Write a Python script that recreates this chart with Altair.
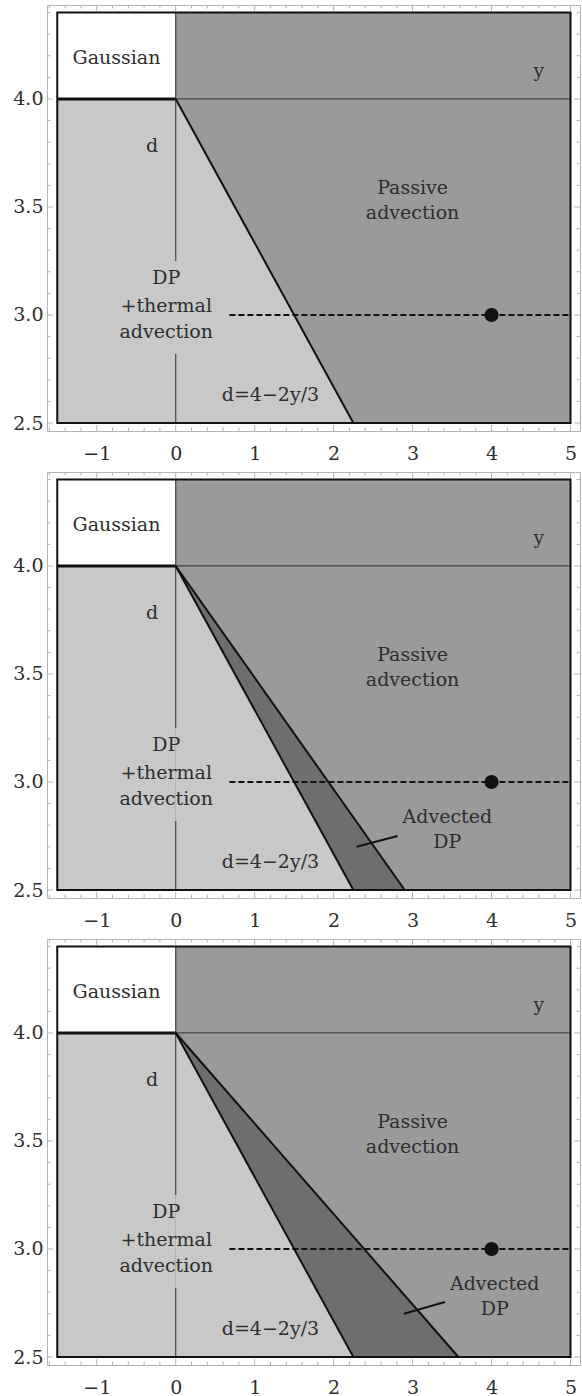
import altair as alt
import pandas as pd

# ---------------- data ----------------
X_DOMAIN = [-1.63, 5.12]
Y_DOMAIN = [2.463, 4.435]
W, H = 533, 426

# filled regions: Gaussian (white), DP left (light), passive advection (medium)
region_x = [-1.5, -1.5, 0.0]
region_x2 = [0.0, 0.0, 5.0]
region_y = [4.0, 2.5, 2.5]
region_y2 = [4.4, 4.0, 4.4]
region_fill = ["#ffffff", "#c8c8c8", "#9a9a9a"]

# DP + thermal advection boundary d = 4 - 2y/3 : (0,4) -> (2.25,2.5)
dp_x = [0.0, 2.25]
dp_d = [4.0, 2.5]

# right edge (at d = 2.5) of the "Advected DP" wedge in each panel
adv_right = [None, 2.9, 3.58]
# pointer segment for "Advected DP" label per panel: x, d, x2, d2
ptr = [None, (2.29, 2.70, 2.81, 2.75), (2.89, 2.70, 3.41, 2.755)]
adv_label_x = [None, 3.44, 4.04]

# thin guide lines: d = 4 (y from 0 to 5) and y = 0 (split around label)
thin_x = [0.0, 0.0, 0.0]
thin_x2 = [5.0, 0.0, 0.0]
thin_d = [4.0, 4.4, 2.82]
thin_d2 = [4.0, 3.25, 2.5]

# dashed line d = 3 and marked point
dash_x, dash_x2, dash_d = 0.68, 5.0, 3.0
pt_x, pt_d = [4.0], [3.0]

# labels
lab_text = ["Gaussian", "y", "d", "Passive", "advection", "DP", "+thermal",
            "advection", "d=4\u22122y/3"]
lab_x = [-0.75, 4.6, -0.30, 3.0, 3.0, -0.12, -0.12, -0.12, 1.2]
lab_d = [4.19, 4.13, 3.78, 3.59, 3.47, 3.17, 3.04, 2.92, 2.63]

# ticks
x_major = [-1, 0, 1, 2, 3, 4, 5]
x_minor = [-1.6, -1.4, -1.2, -0.8, -0.6, -0.4, -0.2, 0.2, 0.4, 0.6, 0.8,
           1.2, 1.4, 1.6, 1.8, 2.2, 2.4, 2.6, 2.8, 3.2, 3.4, 3.6, 3.8,
           4.2, 4.4, 4.6, 4.8]
y_major = [2.5, 3.0, 3.5, 4.0]
y_minor = [2.6, 2.7, 2.8, 2.9, 3.1, 3.2, 3.3, 3.4, 3.6, 3.7, 3.8, 3.9,
           4.1, 4.2, 4.3, 4.4]

FONT = "DejaVu Serif"
TXT = "#2e2e2e"
FRAME = "#b4b4b4"

xs = alt.Scale(domain=X_DOMAIN, nice=False, zero=False)
ys = alt.Scale(domain=Y_DOMAIN, nice=False, zero=False)


def X(f, **kw):
    return alt.X(f, scale=xs, title=None, **kw)


def Y(f, **kw):
    return alt.Y(f, scale=ys, title=None, **kw)


def tick_layer(vals, size, side):
    df = pd.DataFrame({"v": vals})
    m = alt.Chart(df).mark_rule(color=FRAME, strokeWidth=1)
    if side == "bottom":
        return m.encode(x=X("v:Q"), y=alt.value(H), y2=alt.value(H - size))
    if side == "top":
        return m.encode(x=X("v:Q"), y=alt.value(0), y2=alt.value(size))
    if side == "left":
        return m.encode(y=Y("v:Q"), x=alt.value(0), x2=alt.value(size))
    return m.encode(y=Y("v:Q"), x=alt.value(W), x2=alt.value(W - size))


def panel(i):
    layers = []
    reg = pd.DataFrame({"x": region_x, "x2": region_x2, "y": region_y,
                        "y2": region_y2, "c": region_fill})
    layers.append(alt.Chart(reg).mark_rect().encode(
        x=X("x:Q", axis=alt.Axis(values=x_major, format="d", labelPadding=13)),
        x2="x2:Q",
        y=Y("y:Q", axis=alt.Axis(values=y_major, format=".1f", labelPadding=4)),
        y2="y2:Q",
        color=alt.Color("c:N", scale=None),
    ))
    if adv_right[i] is not None:
        adv = pd.DataFrame({"x": [0.0, adv_right[i]], "y": [4.0, 2.5], "y2": [2.5, 2.5]})
        layers.append(alt.Chart(adv).mark_area(color="#6e6e6e", opacity=1).encode(
            x=X("x:Q"), y=Y("y:Q"), y2="y2:Q"))
    tri = pd.DataFrame({"x": dp_x, "y": dp_d, "y2": [2.5, 2.5]})
    layers.append(alt.Chart(tri).mark_area(color="#c8c8c8", opacity=1).encode(
        x=X("x:Q"), y=Y("y:Q"), y2="y2:Q"))

    thin = pd.DataFrame({"x": thin_x, "x2": thin_x2, "y": thin_d, "y2": thin_d2})
    layers.append(alt.Chart(thin).mark_rule(color="#444444", strokeWidth=1.2).encode(
        x=X("x:Q"), x2="x2:Q", y=Y("y:Q"), y2="y2:Q"))

    seg_x, seg_x2, seg_y, seg_y2 = [dp_x[0]], [dp_x[1]], [dp_d[0]], [dp_d[1]]
    if adv_right[i] is not None:
        seg_x += [0.0]
        seg_x2 += [adv_right[i]]
        seg_y += [4.0]
        seg_y2 += [2.5]
        px, pd_, px2, pd2 = ptr[i]
        seg_x += [px]
        seg_x2 += [px2]
        seg_y += [pd_]
        seg_y2 += [pd2]
    segs = pd.DataFrame({"x": seg_x, "x2": seg_x2, "y": seg_y, "y2": seg_y2})
    layers.append(alt.Chart(segs).mark_rule(color="#111111", strokeWidth=2).encode(
        x=X("x:Q"), x2="x2:Q", y=Y("y:Q"), y2="y2:Q"))

    gl = pd.DataFrame({"x": [-1.5], "x2": [0.0], "y": [4.0]})
    layers.append(alt.Chart(gl).mark_rule(color="#111111", strokeWidth=3).encode(
        x=X("x:Q"), x2="x2:Q", y=Y("y:Q")))

    border = pd.DataFrame({"x": [-1.5], "x2": [5.0], "y": [2.5], "y2": [4.4]})
    layers.append(alt.Chart(border).mark_rect(fillOpacity=0, stroke="#111111",
                                              strokeWidth=2).encode(
        x=X("x:Q"), x2="x2:Q", y=Y("y:Q"), y2="y2:Q"))

    dl = pd.DataFrame({"x": [dash_x], "x2": [dash_x2], "y": [dash_d]})
    layers.append(alt.Chart(dl).mark_rule(color="#111111", strokeWidth=2,
                                          strokeDash=[6, 3]).encode(
        x=X("x:Q"), x2="x2:Q", y=Y("y:Q")))

    pt = pd.DataFrame({"x": pt_x, "y": pt_d})
    layers.append(alt.Chart(pt).mark_circle(size=200, color="#111111", opacity=1).encode(
        x=X("x:Q"), y=Y("y:Q")))

    t_text, t_x, t_y = list(lab_text), list(lab_x), list(lab_d)
    if adv_label_x[i] is not None:
        t_text += ["Advected", "DP"]
        t_x += [adv_label_x[i], adv_label_x[i]]
        t_y += [2.84, 2.72]
    lab = pd.DataFrame({"t": t_text, "x": t_x, "y": t_y})
    layers.append(alt.Chart(lab).mark_text(font=FONT, fontSize=19, color=TXT,
                                           baseline="middle", align="center").encode(
        x=X("x:Q"), y=Y("y:Q"), text="t:N"))

    for side in ["bottom", "top"]:
        layers.append(tick_layer(x_major, 6, side))
        layers.append(tick_layer(x_minor, 3.5, side))
    for side in ["left", "right"]:
        layers.append(tick_layer(y_major, 6, side))
        layers.append(tick_layer(y_minor, 3.5, side))

    return alt.layer(*layers).properties(width=W, height=H)


chart = alt.vconcat(panel(0), panel(1), panel(2), spacing=7).properties(
    padding={"left": 12, "top": 4, "right": 0, "bottom": 0}
).configure_view(stroke=FRAME, strokeWidth=1).configure_axis(
    grid=False, ticks=False, tickSize=0, domain=False, labelFont=FONT,
    labelFontSize=19, labelColor=TXT
)

chart.save("out.html", embed_options={"renderer": "svg", "actions": False})
